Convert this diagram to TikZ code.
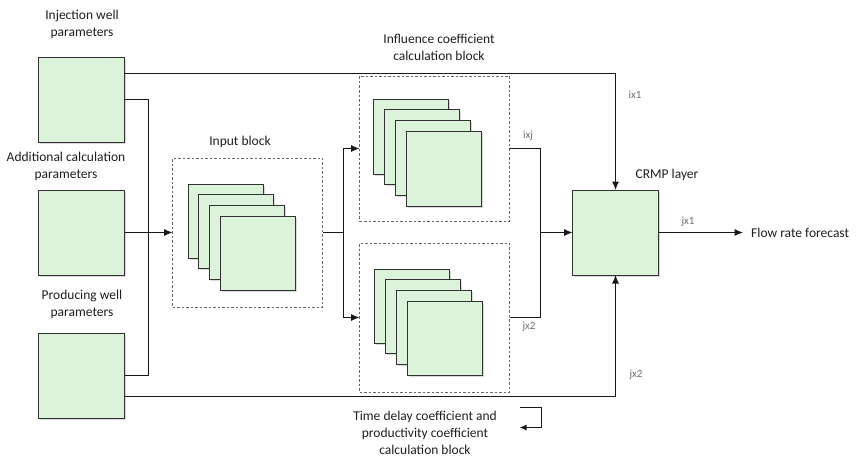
\documentclass[tikz,border=0pt]{standalone}
\usepackage{fontspec}
\setmainfont{Carlito}
\usetikzlibrary{arrows.meta,shadows}
\definecolor{boxfill}{RGB}{220,242,218}
\definecolor{boxline}{RGB}{50,50,50}
\definecolor{txt}{RGB}{30,30,30}
\definecolor{lbl}{RGB}{110,110,110}
\tikzset{
  gbox/.style={draw=boxline, line width=1pt, fill=boxfill, inner sep=0pt, outer sep=0pt,
    drop shadow={shadow xshift=1.5pt, shadow yshift=-1.5pt, fill=black!25, opacity=0.6}},
  dbox/.style={draw=black!60, dashed, dash pattern=on 2.5pt off 2pt, line width=0.7pt, inner sep=0pt, outer sep=0pt},
  conn/.style={draw=black!90, line width=1pt},
  arr/.style={conn, -{Latex[length=8.5pt,width=7pt]}},
  ttl/.style={font=\fontsize{13.5}{17}\selectfont, text=txt, align=center, inner sep=0pt},
  lab/.style={font=\fontsize{11}{12}\selectfont, text=lbl, inner sep=0pt},
}
\begin{document}
\begin{tikzpicture}[x=1pt,y=-1pt]
\useasboundingbox (0,0) rectangle (858,460);
% left boxes
\node[gbox, minimum width=86pt, minimum height=85pt] (inj) at (81.5,99.5) {};
\node[gbox, minimum width=86pt, minimum height=85pt] (add) at (81.5,232.5) {};
\node[gbox, minimum width=86pt, minimum height=85pt] (prod) at (81.5,375.5) {};
\node[ttl] (tinj) at (82,24) {Injection well\\parameters};
\node[ttl] (tadd) at (66,166) {Additional calculation\\parameters};
\node[ttl] (tprod) at (82,304) {Producing well\\parameters};
% input block
\node[dbox, minimum width=150pt, minimum height=149pt] (inp) at (247.5,232.5) {};
\node[ttl] (tinp) at (240,142) {Input block};
\foreach \k in {0,1,2,3}{
  \node[gbox, minimum width=75pt, minimum height=74pt] (in\k) at (225.5+10.67*\k, 221+10.67*\k) {};
}
% influence block
\node[dbox, minimum width=150pt, minimum height=145pt] (infl) at (434.5,148.5) {};
\node[ttl] (tinfl) at (439,47) {Influence coefficient\\calculation block};
\foreach \k in {0,1,2,3}{
  \node[gbox, minimum width=75pt, minimum height=75pt] (fl\k) at (411+10.9*\k, 136.5+10.67*\k) {};
}
% lower block
\node[dbox, minimum width=150pt, minimum height=149pt] (low) at (434.5,317.5) {};
\node[ttl] (tlow) at (425,432.5) {Time delay coefficient and\\productivity coefficient\\calculation block};
\foreach \k in {0,1,2,3}{
  \node[gbox, minimum width=75pt, minimum height=74pt] (lw\k) at (412+10.9*\k, 306+10.67*\k) {};
}
% CRMP
\node[gbox, minimum width=86pt, minimum height=85pt] (crmp) at (615.5,232.5) {};
\node[ttl] (tcrmp) at (667,175) {CRMP layer};
\node[ttl, anchor=west] (flow) at (751,232.5) {Flow rate forecast};
% coordinates
\coordinate (bus) at (148.5,99.5);
\coordinate (split) at (343.5,232.5);
\coordinate (merge) at (540.5,232.5);
% connectors
\draw[arr] ([yshift=26pt]inj.east) -| (crmp.north);
\draw[conn] (inj.east) -- (bus) |- (prod.east);
\draw[arr] (add.east) -- (inp.west);
\draw[conn] (inp.east) -- (split);
\draw[arr] (split) |- (infl.west);
\draw[arr] (split) |- (low.west);
\draw[conn] (infl.east) -| (merge);
\draw[conn] (low.east) -| (merge);
\draw[arr] (merge) -- (crmp.west);
\draw[arr] ([yshift=-21pt]prod.east) -| (crmp.south);
\draw[arr, shorten >=8pt] (crmp.east) -- (flow.west);
% small return arrow
\coordinate (r1) at (519.5,407.5);
\coordinate (r2) at (541.5,407.5);
\coordinate (r3) at (541.5,427.5);
\coordinate (r4) at (519.5,427.5);
\draw[conn, -{Latex[length=7pt,width=6pt]}] (r1) -- (r2) -- (r3) -- (r4);
% labels
\node[lab] (lixj) at (528,136) {ixj};
\node[lab] (ljx2a) at (529,327) {jx2};
\node[lab] (lix1) at (635,95) {ix1};
\node[lab] (ljx2b) at (636,375) {jx2};
\node[lab] (ljx1) at (688,222) {jx1};
\end{tikzpicture}
\end{document}
